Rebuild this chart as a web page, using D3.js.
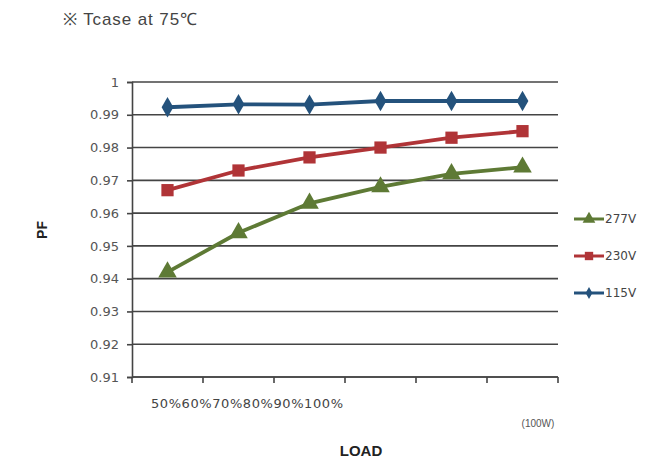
<!DOCTYPE html>
<html>
<head>
<meta charset="utf-8">
<script src="https://cdn.jsdelivr.net/npm/d3@7"></script>
<style>
body { margin: 0; background: #fff; }
svg { font-family: "Liberation Sans", Arial, sans-serif; }
</style>
</head>
<body>
<svg id="chart"></svg>
<script>
var width = 651, height = 460;

var loads = ['50%', '60%', '70%', '80%', '90%', '100%'];
var pf277 = [0.942, 0.954, 0.963, 0.968, 0.972, 0.974];
var pf230 = [0.967, 0.973, 0.977, 0.980, 0.983, 0.985];
var pf115 = [0.9923, 0.9932, 0.9931, 0.9942, 0.9942, 0.9942];
var yTicks = [0.91, 0.92, 0.93, 0.94, 0.95, 0.96, 0.97, 0.98, 0.99, 1];

var series = [
    {name: '277V', values: pf277, color: '#5e7a35', shape: d3.symbolTriangle},
    {name: '230V', values: pf230, color: '#b03437', shape: d3.symbolSquare},
    {name: '115V', values: pf115, color: '#24527c', shape: d3.symbolDiamond}
];

var svg = d3.select('#chart')
    .attr('width', width)
    .attr('height', height);

var x = d3.scaleBand().domain(loads).range([132, 558]);
var y = d3.scaleLinear().domain([0.91, 1]).range([377, 82]);

// grid
svg.append('g')
    .selectAll('line')
    .data(yTicks)
    .enter()
    .append('line')
    .attr('x1', 132)
    .attr('x2', 558)
    .attr('y1', function(d) { return y(d); })
    .attr('y2', function(d) { return y(d); })
    .attr('stroke', '#444')
    .attr('stroke-width', 1.6);

// y axis
var yAxis = svg.append('g')
    .attr('transform', 'translate(132,0)')
    .call(d3.axisLeft(y).tickValues(yTicks).tickSize(5).tickPadding(8)
        .tickFormat(function(d) { return d === 1 ? '1' : d3.format('.2f')(d); }));
yAxis.select('.domain').attr('stroke', '#444').attr('stroke-width', 1.6);
yAxis.selectAll('.tick line').attr('stroke', '#444').attr('stroke-width', 1.6);
yAxis.selectAll('text')
    .attr('fill', '#555')
    .attr('font-size', 13)
    .attr('font-family', '"DejaVu Sans", sans-serif');

// x axis (ticks only at band edges)
var xEdges = loads.map(function(d) { return x(d); }).concat([x.range()[1]]);
svg.append('line')
    .attr('x1', 132).attr('x2', 558)
    .attr('y1', y(0.91)).attr('y2', y(0.91))
    .attr('stroke', '#444').attr('stroke-width', 1.6);
svg.append('g')
    .selectAll('line')
    .data(xEdges)
    .enter()
    .append('line')
    .attr('x1', function(d) { return d; })
    .attr('x2', function(d) { return d; })
    .attr('y1', y(0.91))
    .attr('y2', y(0.91) + 6)
    .attr('stroke', '#444')
    .attr('stroke-width', 1.6);

svg.append('text')
    .text(loads.join(''))
    .attr('x', 151)
    .attr('y', 408)
    .attr('font-size', 13)
    .attr('textLength', 192)
    .attr('fill', '#444')
    .attr('font-family', '"DejaVu Sans", sans-serif');

// lines and markers
var line = d3.line()
    .x(function(d, i) { return x(loads[i]) + x.bandwidth() / 2; })
    .y(function(d) { return y(d); });

series.forEach(function(s) {
    svg.append('path')
        .datum(s.values)
        .attr('d', line)
        .attr('fill', 'none')
        .attr('stroke', s.color)
        .attr('stroke-width', 3.8);
    svg.append('g')
        .selectAll('path')
        .data(s.values)
        .enter()
        .append('path')
        .attr('transform', function(d, i) {
            return 'translate(' + (x(loads[i]) + x.bandwidth() / 2) + ',' + y(d) + ')';
        })
        .attr('d', d3.symbol().type(s.shape).size(s.shape === d3.symbolDiamond ? 120 : 150))
        .attr('fill', s.color);
});

// legend
var legend = svg.append('g')
    .selectAll('g')
    .data(series)
    .enter()
    .append('g')
    .attr('transform', function(d, i) { return 'translate(574,' + (219 + i * 37) + ')'; });
legend.append('line')
    .attr('x1', 0).attr('x2', 30)
    .attr('stroke', function(d) { return d.color; })
    .attr('stroke-width', 3);
legend.append('path')
    .attr('transform', 'translate(15,0)')
    .attr('d', function(d) { return d3.symbol().type(d.shape).size(d.shape === d3.symbolDiamond ? 40 : 70)(); })
    .attr('fill', function(d) { return d.color; });
legend.append('text')
    .text(function(d) { return d.name; })
    .attr('x', 31)
    .attr('y', 4)
    .attr('font-size', 12)
    .attr('fill', '#444')
    .attr('font-family', '"DejaVu Sans", sans-serif');

// titles
svg.append('text')
    .text('※ Tcase at 75℃')
    .attr('x', 63)
    .attr('y', 25)
    .attr('font-size', 17)
    .attr('textLength', 134)
    .attr('fill', '#444');

svg.append('text')
    .text('PF')
    .attr('transform', 'translate(47,230) rotate(-90)')
    .attr('text-anchor', 'middle')
    .attr('font-size', 14)
    .attr('font-weight', 'bold')
    .attr('fill', '#222');

svg.append('text')
    .text('LOAD')
    .attr('x', 361)
    .attr('y', 456)
    .attr('text-anchor', 'middle')
    .attr('font-size', 15)
    .attr('font-weight', 'bold')
    .attr('fill', '#222');

svg.append('text')
    .text('(100W)')
    .attr('x', 538)
    .attr('y', 427)
    .attr('text-anchor', 'middle')
    .attr('font-size', 10)
    .attr('fill', '#555');
</script>
</body>
</html>
